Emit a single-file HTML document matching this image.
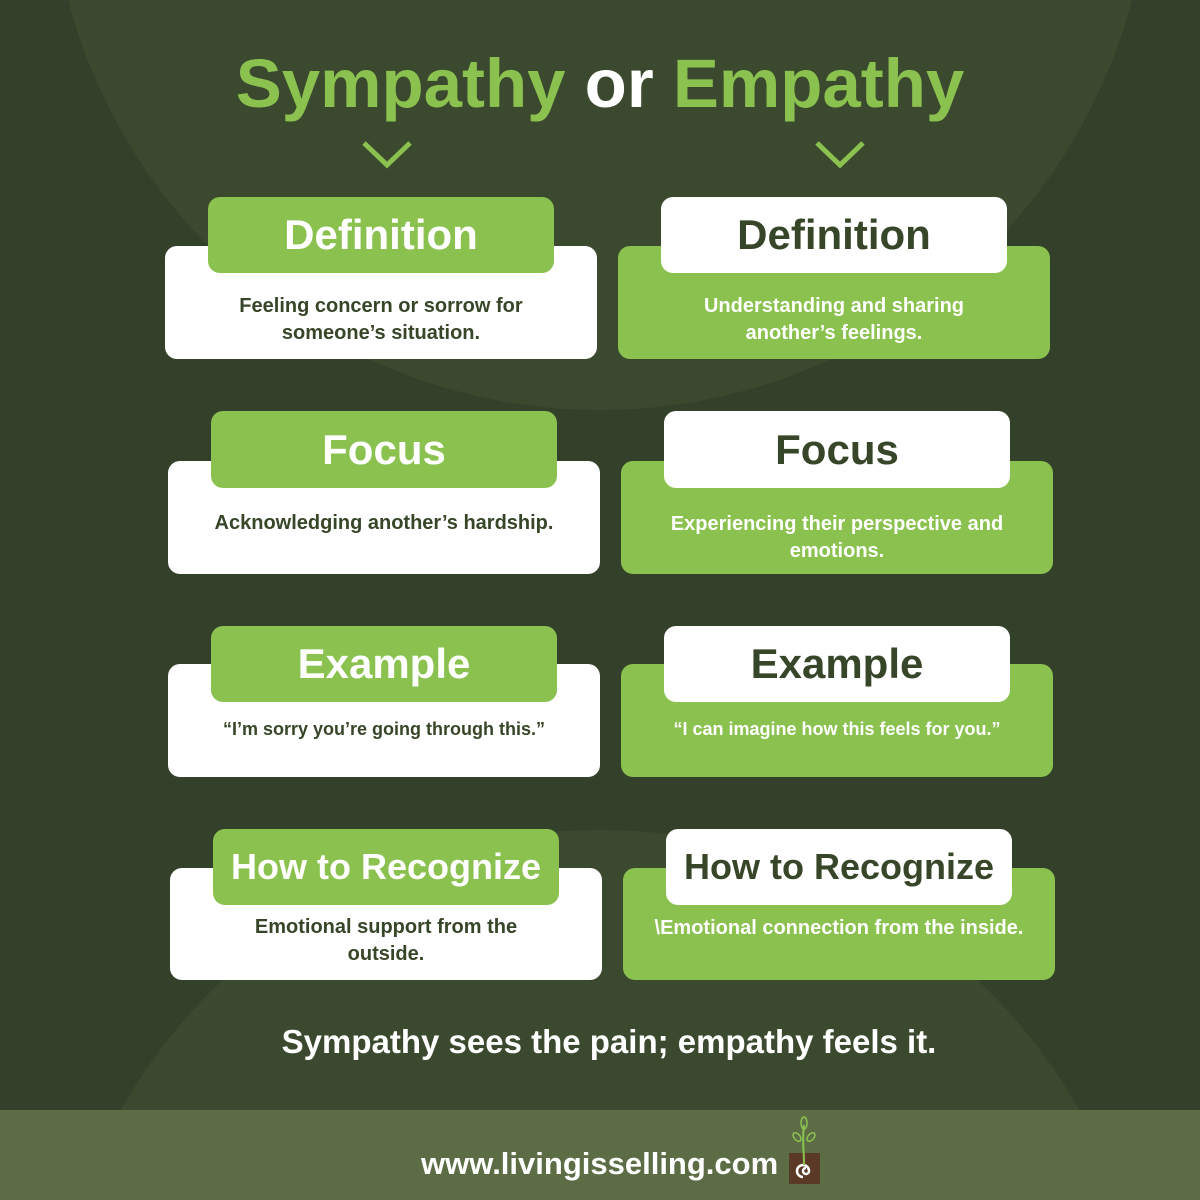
<!DOCTYPE html>
<html><head><meta charset="utf-8"><style>
*{margin:0;padding:0;box-sizing:border-box}
html,body{width:1200px;height:1200px;overflow:hidden}
body{font-family:"Liberation Sans",sans-serif;font-weight:bold}
#wrap{position:relative;width:1200px;height:1200px;overflow:hidden;background:#33402a}
.box{position:absolute;border-radius:12px}
.w{background:#fff}
.g{background:#8bc24f}
.t{position:absolute;display:flex;align-items:center;justify-content:center;text-align:center}
.dk{color:#374628}
.wh{color:#fff}
.title{font-size:42px}
.body{font-size:20px;line-height:27px}
</style></head><body><div id="wrap">
<svg style="position:absolute;left:0;top:0" width="1200" height="1200">
<circle cx="600" cy="-140" r="550" fill="#3b4a2f"/>
<circle cx="600" cy="1380" r="550" fill="#3b4a2f"/>
<rect x="0" y="1110" width="1200" height="90" fill="#5c6d45"/>
<polyline points="364,143 387,165 410,143" fill="none" stroke="#8bc24f" stroke-width="5"/>
<polyline points="817,143 840,165 863,143" fill="none" stroke="#8bc24f" stroke-width="5"/>
</svg>

<div class="t" style="left:0;top:38px;width:1200px;height:90px;font-size:69px"><span style="color:#8bc24f">Sympathy</span><span style="color:#fff">&nbsp;or&nbsp;</span><span style="color:#8bc24f">Empathy</span></div>

<div class="box w" style="left:165px;top:246px;width:432px;height:113px"></div>
<div class="box g" style="left:208px;top:197px;width:346px;height:76px"></div>
<div class="t wh title" style="left:208px;top:197px;width:346px;height:76px">Definition</div>
<div class="t dk body" style="left:165px;top:280px;width:432px;height:79px">Feeling concern or sorrow for<br>someone’s situation.</div>

<div class="box g" style="left:618px;top:246px;width:432px;height:113px"></div>
<div class="box w" style="left:661px;top:197px;width:346px;height:76px"></div>
<div class="t dk title" style="left:661px;top:197px;width:346px;height:76px">Definition</div>
<div class="t wh body" style="left:618px;top:280px;width:432px;height:79px">Understanding and sharing<br>another’s feelings.</div>

<div class="box w" style="left:168px;top:461px;width:432px;height:113px"></div>
<div class="box g" style="left:211px;top:411px;width:346px;height:77px"></div>
<div class="t wh title" style="left:211px;top:411px;width:346px;height:77px">Focus</div>
<div class="t dk body" style="left:168px;top:496px;width:432px;height:55px">Acknowledging another’s hardship.</div>

<div class="box g" style="left:621px;top:461px;width:432px;height:113px"></div>
<div class="box w" style="left:664px;top:411px;width:346px;height:77px"></div>
<div class="t dk title" style="left:664px;top:411px;width:346px;height:77px">Focus</div>
<div class="t wh body" style="left:621px;top:505px;width:432px;height:65px">Experiencing their perspective and<br>emotions.</div>

<div class="box w" style="left:168px;top:664px;width:432px;height:113px"></div>
<div class="box g" style="left:211px;top:626px;width:346px;height:76px"></div>
<div class="t wh title" style="left:211px;top:626px;width:346px;height:76px">Example</div>
<div class="t dk body" style="left:168px;top:712px;width:432px;height:34px;font-size:18px">“I’m sorry you’re going through this.”</div>

<div class="box g" style="left:621px;top:664px;width:432px;height:113px"></div>
<div class="box w" style="left:664px;top:626px;width:346px;height:76px"></div>
<div class="t dk title" style="left:664px;top:626px;width:346px;height:76px">Example</div>
<div class="t wh body" style="left:621px;top:712px;width:432px;height:34px;font-size:18px">“I can imagine how this feels for you.”</div>

<div class="box w" style="left:170px;top:868px;width:432px;height:112px"></div>
<div class="box g" style="left:213px;top:829px;width:346px;height:76px"></div>
<div class="t wh" style="left:213px;top:829px;width:346px;height:76px;font-size:36px">How to Recognize</div>
<div class="t dk body" style="left:170px;top:912px;width:432px;height:58px">Emotional support from the<br>outside.</div>

<div class="box g" style="left:623px;top:868px;width:432px;height:112px"></div>
<div class="box w" style="left:666px;top:829px;width:346px;height:76px"></div>
<div class="t dk" style="left:666px;top:829px;width:346px;height:76px;font-size:36px">How to Recognize</div>
<div class="t wh body" style="left:623px;top:912px;width:432px;height:32px">\Emotional connection from the inside.</div>

<div class="t wh" style="left:0;top:1020px;width:1218px;height:44px;font-size:33px">Sympathy sees the pain; empathy feels it.</div>

<div class="t wh" style="left:421px;top:1142px;width:360px;height:44px;font-size:31px;justify-content:flex-start">www.livingisselling.com</div>
<svg style="position:absolute;left:785px;top:1115px" width="40" height="72">
<rect x="4" y="38" width="31" height="31" fill="#5a3a26"/>
<path d="M18 62 a6 6 0 1 1 6 -6 a3 3 0 1 1 -3 -3" fill="none" stroke="#fff" stroke-width="2.5"/>
<path d="M19 50 C19 35 17 25 19 10" fill="none" stroke="#8bc24f" stroke-width="2"/>
<ellipse cx="19" cy="8" rx="3" ry="6" fill="none" stroke="#8bc24f" stroke-width="1.5"/>
<ellipse cx="12" cy="22" rx="3" ry="5" transform="rotate(-40 12 22)" fill="none" stroke="#8bc24f" stroke-width="1.5"/>
<ellipse cx="26" cy="22" rx="3" ry="5" transform="rotate(40 26 22)" fill="none" stroke="#8bc24f" stroke-width="1.5"/>
</svg>
</div></body></html>
